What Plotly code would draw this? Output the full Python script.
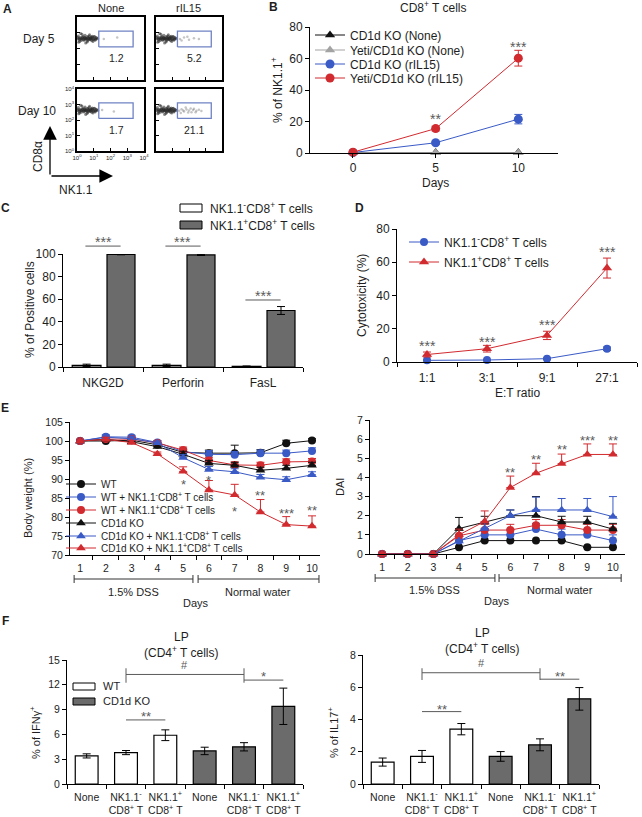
import plotly.graph_objects as go

W, H = 642, 817
FONT = "Liberation Sans, Arial, Helvetica, sans-serif"
TXT = "#1e1e1e"
RED = "#d12a2f"
BLUE = "#3a5ac6"
BLACK = "#111111"
LIGHT = "#a3a3a3"
BARGRAY = "#6b6b6b"
SIG = "#5a5a5a"

# ======================= DATA =======================
# Panel A - flow cytometry (log10 units)
flow_cond = ["None", "rIL15"]
flow_day = ["Day 5", "Day 10"]
flow_pct = ["1.2", "5.2", "1.7", "21.1"]          # None-D5, rIL15-D5, None-D10, rIL15-D10
flow_ticks = ["10<sup>0</sup>", "10<sup>1</sup>", "10<sup>2</sup>", "10<sup>3</sup>", "10<sup>4</sup>"]
cloud_x = [0.05, 0.12, 0.2, 0.28, 0.35, 0.42, 0.5, 0.58, 0.65, 0.72, 0.8, 0.88, 0.95, 1.02, 1.1, 1.18,
           0.08, 0.16, 0.24, 0.32, 0.4, 0.48, 0.56, 0.64, 0.72, 0.8, 0.9, 1.0, 1.08,
           0.1, 0.3, 0.45, 0.6, 0.75, 0.85, 1.05, 0.22, 0.52, 0.7, 0.95,
           0.04, 0.14, 0.26, 0.38, 0.46, 0.54, 0.62, 0.7, 0.78, 0.86, 0.98, 1.14, 1.24,
           0.18, 0.34, 0.5, 0.66, 0.82, 0.92, 1.12]
cloud_y = [2.62, 2.55, 2.7, 2.6, 2.78, 2.52, 2.66, 2.58, 2.72, 2.6, 2.68, 2.5, 2.64, 2.74, 2.58, 2.66,
           2.8, 2.45, 2.62, 2.7, 2.56, 2.84, 2.64, 2.48, 2.8, 2.55, 2.7, 2.6, 2.52,
           2.4, 2.9, 2.68, 2.42, 2.88, 2.62, 2.76, 2.95, 2.35, 2.66, 2.45,
           2.7, 2.66, 2.5, 2.62, 2.72, 2.6, 2.76, 2.64, 2.58, 2.74, 2.56, 2.7, 2.62,
           2.58, 2.68, 2.62, 2.55, 2.66, 2.78, 2.6]
gate_none5_x = [1.6, 2.4]
gate_none5_y = [2.6, 2.7]
gate_il15_5_x = [1.45, 1.7, 2.0, 2.3, 2.6, 1.55, 1.9]
gate_il15_5_y = [2.6, 2.7, 2.55, 2.65, 2.6, 2.5, 2.75]
gate_none10_x = [1.5, 2.2]
gate_none10_y = [2.65, 2.55]
gate_il15_10_x = [1.4, 1.55, 1.7, 1.85, 2.0, 2.15, 2.3, 2.45, 2.6, 2.75, 1.5, 1.8, 2.1, 2.4, 1.65, 1.95, 2.25]
gate_il15_10_y = [2.6, 2.7, 2.55, 2.68, 2.62, 2.5, 2.72, 2.6, 2.66, 2.58, 2.45, 2.8, 2.75, 2.5, 2.62, 2.48, 2.64]
gate_x = [1.3, 3.35, 3.35, 1.3, 1.3]
gate_y = [2.1, 2.1, 3.1, 3.1, 2.1]

# Panel B
b_days = [0, 5, 10]
b_ko_none = [0.3, 0.3, 0.3]
b_yeti_none = [0.2, 0.2, 0.2]
b_ko_il15 = [0.3, 6.5, 21.5]
b_ko_il15_err = [0.2, 1.0, 3.0]
b_yeti_il15 = [0.5, 15.5, 60.2]
b_yeti_il15_err = [0.4, 1.5, 5.0]

# Panel C
c_markers = ["NKG2D", "Perforin", "FasL"]
c_neg = [1.5, 1.5, 0.6]
c_neg_err = [1.0, 1.0, 0.3]
c_pos = [99.6, 99.2, 50.0]
c_pos_err = [0.3, 0.5, 3.5]

# Panel D
d_ratios = ["1:1", "3:1", "9:1", "27:1"]
d_neg = [1.0, 1.2, 2.0, 8.0]
d_neg_err = [0.3, 0.3, 0.5, 1.0]
d_pos = [4.5, 8.0, 16.0, 56.5]
d_pos_err = [1.5, 2.0, 2.5, 6.0]

# Panel E
e_days = [1, 2, 3, 4, 5, 6, 7, 8, 9, 10]
e_names = ["WT", "WT + NK1.1<sup>-</sup>CD8<sup>+</sup> T cells", "WT + NK1.1<sup>+</sup>CD8<sup>+</sup> T cells",
           "CD1d KO", "CD1d KO + NK1.1<sup>-</sup>CD8<sup>+</sup> T cells", "CD1d KO + NK1.1<sup>+</sup>CD8<sup>+</sup> T cells"]
w_wt = [100, 100, 100.2, 99.0, 97.0, 96.8, 96.8, 96.9, 99.4, 100.1]
w_wt_err = [0.3, 0.3, 0.5, 0.5, 0.8, 0.8, 2.1, 0.8, 0.8, 0.5]
w_wt_neg = [100, 101.1, 101.0, 99.6, 97.2, 96.5, 96.4, 96.8, 96.8, 97.4]
w_wt_neg_err = [0.3, 0.5, 0.5, 0.5, 0.8, 1.0, 0.8, 0.8, 0.8, 0.8]
w_wt_pos = [100, 100.5, 100.5, 99.5, 97.6, 94.9, 93.7, 93.6, 94.5, 94.6]
w_wt_pos_err = [0.3, 0.5, 0.5, 0.5, 0.8, 0.8, 0.8, 0.8, 0.8, 0.8]
w_ko = [100, 100.4, 99.8, 98.5, 96.5, 94.1, 93.6, 92.3, 92.8, 93.6]
w_ko_err = [0.3, 0.5, 0.5, 0.5, 0.8, 0.8, 0.8, 0.8, 0.8, 0.8]
w_ko_neg = [100, 101.0, 100.6, 99.5, 95.6, 92.5, 91.9, 90.4, 89.8, 91.1]
w_ko_neg_err = [0.3, 0.5, 0.5, 0.5, 0.8, 0.8, 0.8, 0.8, 0.8, 0.8]
w_ko_pos = [100, 100.4, 99.6, 96.6, 92.0, 87.1, 85.8, 81.3, 78.0, 77.6]
w_ko_pos_err = [0.3, 0.5, 0.5, 0.5, 1.2, 2.5, 2.8, 3.3, 2.1, 2.7]

dai_wt = [0, 0, 0, 0.35, 0.7, 0.7, 0.7, 0.7, 0.35, 0.35]
dai_wt_err = [0, 0, 0, 0, 0, 0, 0, 0, 0, 0]
dai_wt_neg = [0, 0, 0, 0.7, 1.0, 1.0, 1.3, 1.0, 1.0, 0.7]
dai_wt_neg_err = [0, 0, 0, 0.3, 0.3, 0.3, 0.3, 0.3, 0.3, 0.3]
dai_wt_pos = [0, 0, 0, 0.95, 1.25, 1.25, 1.5, 1.5, 1.25, 1.25]
dai_wt_pos_err = [0, 0, 0, 0.3, 0.3, 0.3, 0.3, 0.3, 0.3, 0.3]
dai_ko = [0, 0, 0, 1.33, 1.67, 2.0, 2.0, 1.67, 1.67, 1.3]
dai_ko_err = [0, 0, 0, 0.58, 0.3, 0.3, 1.0, 0.3, 0.3, 0.3]
dai_ko_neg = [0, 0, 0, 0.67, 1.33, 2.0, 2.3, 2.3, 2.3, 1.95]
dai_ko_neg_err = [0, 0, 0, 0.3, 0.3, 0.3, 0.67, 0.6, 0.6, 1.05]
dai_ko_pos = [0, 0, 0, 1.0, 1.7, 3.47, 4.22, 4.72, 5.2, 5.2]
dai_ko_pos_err = [0, 0, 0, 0.3, 0.55, 0.6, 0.52, 0.5, 0.55, 0.55]

# Panel F
f_groups = ["None", "NK1.1<sup>-</sup><br>CD8<sup>+</sup> T", "NK1.1<sup>+</sup><br>CD8<sup>+</sup> T"]
f_ifng_wt = [3.4, 3.8, 5.9]
f_ifng_wt_err = [0.25, 0.25, 0.65]
f_ifng_ko = [4.0, 4.5, 9.4]
f_ifng_ko_err = [0.45, 0.5, 2.2]
f_il17_wt = [1.36, 1.71, 3.4]
f_il17_wt_err = [0.25, 0.37, 0.35]
f_il17_ko = [1.71, 2.43, 5.28]
f_il17_ko_err = [0.3, 0.37, 0.7]

# ======================= HELPERS =======================
fig = go.Figure()
AX = {}
layout_axes = {}
annotations = []
shapes = []
legends = {}


def ref(n, letter):
    return letter if n == 1 else f"{letter}{n}"


def add_axes(n, xpx, ypx, xr, yr, xkw=None, ykw=None, size=12):
    AX[n] = dict(x=xpx, y=ypx, xr=xr, yr=yr)
    base = dict(showline=True, linecolor="black", linewidth=1, showgrid=False, zeroline=False,
                ticks="outside", ticklen=4, tickwidth=1, tickcolor="black", fixedrange=True,
                automargin=False, tickfont=dict(family=FONT, size=size, color=TXT))
    xa = dict(base, domain=[xpx[0] / W, xpx[1] / W], range=list(xr), anchor=ref(n, "y"))
    ya = dict(base, domain=[1 - ypx[1] / H, 1 - ypx[0] / H], range=list(yr), anchor=ref(n, "x"))
    if xkw:
        xa.update(xkw)
    if ykw:
        ya.update(ykw)
    layout_axes["xaxis" if n == 1 else f"xaxis{n}"] = xa
    layout_axes["yaxis" if n == 1 else f"yaxis{n}"] = ya


def dx(n, v):
    (x0, x1), (r0, r1) = AX[n]["x"], AX[n]["xr"]
    return x0 + (v - r0) / (r1 - r0) * (x1 - x0)


def dy(n, v):
    (t, b), (r0, r1) = AX[n]["y"], AX[n]["yr"]
    return b - (v - r0) / (r1 - r0) * (b - t)


def ptext(x, y, s, size=12, anchor="center", angle=0, bold=False, color=TXT):
    annotations.append(dict(x=x / W, y=1 - y / H, xref="paper", yref="paper",
                            text=(f"<b>{s}</b>" if bold else s), showarrow=False,
                            xanchor=anchor, yanchor="middle", textangle=angle,
                            font=dict(family=FONT, size=size, color=color)))


def star(n, xv, yv, s, size=14):
    ptext(dx(n, xv), dy(n, yv) + 0.28 * size, s, size=size, color=SIG)


def pline(x0, y0, x1, y1, color=SIG, width=1):
    shapes.append(dict(type="line", xref="paper", yref="paper", x0=x0 / W, y0=1 - y0 / H,
                       x1=x1 / W, y1=1 - y1 / H, line=dict(color=color, width=width)))


def dline(n, x0, x1, y0, y1=None):
    pline(dx(n, x0), dy(n, y0), dx(n, x1), dy(n, y0 if y1 is None else y1))


def bracket(n, x0, x1, ypx):
    a, b = dx(n, x0), dx(n, x1)
    pline(a, ypx, b, ypx, color="#333", width=1)
    pline(a, ypx - 4, a, ypx + 4, color="#333", width=1)
    pline(b, ypx - 4, b, ypx + 4, color="#333", width=1)


def prect(x0, y0, x1, y1, fill):
    shapes.append(dict(type="rect", xref="paper", yref="paper", x0=x0 / W, y0=1 - y1 / H,
                       x1=x1 / W, y1=1 - y0 / H, fillcolor=fill, line=dict(color="black", width=1)))


def new_legend(left, cy, size):
    k = len(legends) + 1
    key = "legend" if k == 1 else f"legend{k}"
    legends[key] = dict(x=left / W, y=1 - cy / H, xanchor="left", yanchor="middle",
                        bgcolor="rgba(0,0,0,0)", borderwidth=0, itemclick=False, itemdoubleclick=False,
                        font=dict(family=FONT, size=size, color=TXT))
    return key


def err(arr, up_only=False, color="black"):
    d = dict(type="data", array=arr, color=color, thickness=1, width=4, visible=True)
    if up_only:
        d.update(symmetric=False, arrayminus=[0] * len(arr))
    return d


def bounds(n):
    return [i - 0.5 for i in range(n + 1)]


# ======================= PANEL A =======================
flow_geo = [((77, 144), (17, 80)), ((156, 222), (17, 80)), ((77, 144), (89, 151)), ((156, 222), (89, 151))]
gate_dots = [(gate_none5_x, gate_none5_y), (gate_il15_5_x, gate_il15_5_y),
             (gate_none10_x, gate_none10_y), (gate_il15_10_x, gate_il15_10_y)]
for i, (gx, gy) in enumerate(flow_geo):
    n = i + 1
    show = (n == 3)
    fk = dict(linewidth=1.6, mirror=True, ticks="inside", ticklen=3, tickmode="array",
              tickvals=[0, 1, 2, 3, 4], ticktext=flow_ticks, showticklabels=show,
              tickfont=dict(family=FONT, size=6, color=TXT))
    add_axes(n, gx, gy, (0, 4), (0, 4), xkw=fk, ykw=fk)
    fig.add_trace(go.Scatter(x=cloud_x, y=cloud_y, mode="markers", xaxis=ref(n, "x"), yaxis=ref(n, "y"),
                             marker=dict(size=3, color="rgba(40,40,40,0.55)"), showlegend=False,
                             hoverinfo="skip"))
    fig.add_trace(go.Scatter(x=gate_dots[i][0], y=gate_dots[i][1], mode="markers", xaxis=ref(n, "x"),
                             yaxis=ref(n, "y"), marker=dict(size=2.5, color="rgba(90,90,90,0.35)"),
                             showlegend=False, hoverinfo="skip"))
    fig.add_trace(go.Scatter(x=gate_x, y=gate_y, mode="lines", xaxis=ref(n, "x"), yaxis=ref(n, "y"),
                             line=dict(color="#6f82c4", width=1.3), showlegend=False, hoverinfo="skip"))
    ptext(dx(n, 2.33), dy(n, 1.38), flow_pct[i], size=10.5)

ptext(dx(1, 2), 8, flow_cond[0], size=11)
ptext(dx(2, 2), 8, flow_cond[1], size=11)
ptext(39, dy(1, 2.6), flow_day[0], size=12)
ptext(37, dy(3, 2.6), flow_day[1], size=12)
annotations.append(dict(x=50 / W, y=1 - 126 / H, xref="paper", yref="paper", ax=0, ay=50, text="",
                        showarrow=True, arrowhead=2, arrowsize=2.1, arrowwidth=1.3, arrowcolor="black"))
annotations.append(dict(x=113 / W, y=1 - 176 / H, xref="paper", yref="paper", ax=-63, ay=0, text="",
                        showarrow=True, arrowhead=2, arrowsize=2.1, arrowwidth=1.3, arrowcolor="black"))
ptext(38, 157, "CD8α", size=12, angle=-90)
ptext(76, 190, "NK1.1", size=12)

# ======================= PANEL B =======================
add_axes(5, (310, 558), (27, 153), (-2.6, 12.4), (0, 80),
         xkw=dict(tickmode="array", tickvals=b_days), ykw=dict(dtick=20))
b_series = [
    ("CD1d KO (None)", b_ko_none, None, BLACK, "triangle-up"),
    ("Yeti/CD1d KO (None)", b_yeti_none, None, LIGHT, "triangle-up"),
    ("CD1d KO (rIL15)", b_ko_il15, b_ko_il15_err, BLUE, "circle"),
    ("Yeti/CD1d KO (rIL15)", b_yeti_il15, b_yeti_il15_err, RED, "circle"),
]
b_leg_y = [35, 50, 64, 78]
for (name, vals, e, col, sym), ly in zip(b_series, b_leg_y):
    key = new_legend(310, ly, 12)
    fig.add_trace(go.Scatter(x=b_days, y=vals, name=name, mode="lines+markers", xaxis="x5", yaxis="y5",
                             line=dict(color=col, width=1), marker=dict(color=col, size=9, symbol=sym),
                             error_y=(err(e, color=col) if e else None), cliponaxis=False, legend=key))
star(5, 5, 24, "**")
star(5, 10, 70, "***")
ptext(273, 7, "B", size=12, bold=True)
ptext(433, 7, "CD8<sup>+</sup> T cells", size=12)
ptext(435, 183, "Days", size=12)
ptext(277, 90, "% of NK1.1<sup>+</sup>", size=12, angle=-90)

# ======================= PANEL C =======================
cx = list(range(len(c_markers)))
add_axes(6, (63, 303), (254, 367), (-0.5, 2.5), (0, 100),
         xkw=dict(tickmode="array", tickvals=cx, ticktext=c_markers, tickcolor="rgba(0,0,0,0)", ticklen=5,
                  minor=dict(tickmode="array", tickvals=bounds(3), ticks="outside", ticklen=4,
                             tickcolor="black")),
         ykw=dict(dtick=20))
fig.add_trace(go.Bar(x=cx, y=c_neg, width=0.36, offset=-0.385, xaxis="x6", yaxis="y6",
                     marker=dict(color="white", line=dict(color="black", width=1.2)),
                     error_y=err(c_neg_err), showlegend=False, name="NK1.1-CD8+ T cells"))
fig.add_trace(go.Bar(x=cx, y=c_pos, width=0.35, offset=0.05, xaxis="x6", yaxis="y6",
                     marker=dict(color=BARGRAY, line=dict(color="black", width=1.2)),
                     error_y=err(c_pos_err), showlegend=False, name="NK1.1+CD8+ T cells"))
for g, yl, ys in [(0, 107, 114), (1, 107, 114), (2, 59.3, 66.5)]:
    dline(6, g - 0.22, g + 0.22, yl)
    star(6, g, ys, "***")
prect(180, 204, 202, 212, "white")
prect(180, 221, 202, 229, BARGRAY)
ptext(208, 208, "NK1.1<sup>-</sup>CD8<sup>+</sup> T cells", size=12, anchor="left")
ptext(208, 225, "NK1.1<sup>+</sup>CD8<sup>+</sup> T cells", size=12, anchor="left")
ptext(6, 208, "C", size=12, bold=True)
ptext(30, 310, "% of Positive cells", size=12, angle=-90)

# ======================= PANEL D =======================
dxs = list(range(len(d_ratios)))
add_axes(7, (397, 637), (229, 362), (-0.5, 3.5), (0, 80),
         xkw=dict(tickmode="array", tickvals=dxs, ticktext=d_ratios, tickcolor="rgba(0,0,0,0)", ticklen=5,
                  minor=dict(tickmode="array", tickvals=bounds(4), ticks="outside", ticklen=4,
                             tickcolor="black")),
         ykw=dict(dtick=20))
k1 = new_legend(404, 242, 12)
fig.add_trace(go.Scatter(x=dxs, y=d_neg, name="NK1.1<sup>-</sup>CD8<sup>+</sup> T cells", mode="lines+markers",
                         xaxis="x7", yaxis="y7", line=dict(color=BLUE, width=1),
                         marker=dict(color=BLUE, size=8, symbol="circle"), error_y=err(d_neg_err, color=BLUE),
                         cliponaxis=False, legend=k1))
k2 = new_legend(404, 262, 12)
fig.add_trace(go.Scatter(x=dxs, y=d_pos, name="NK1.1<sup>+</sup>CD8<sup>+</sup> T cells", mode="lines+markers",
                         xaxis="x7", yaxis="y7", line=dict(color=RED, width=1),
                         marker=dict(color=RED, size=9, symbol="triangle-up"), error_y=err(d_pos_err, color=RED),
                         cliponaxis=False, legend=k2))
for xi, ys in zip(dxs, [12, 14.4, 24.7, 68.6]):
    star(7, xi, ys, "***")
ptext(359, 208, "D", size=12, bold=True)
ptext(362, 295, "Cytotoxicity (%)", size=12, angle=-90)
ptext(517, 393, "E:T ratio", size=12)

# ======================= PANEL E =======================
ex_kw = dict(tickmode="array", tickvals=e_days, tickcolor="rgba(0,0,0,0)", ticklen=3,
             minor=dict(tickmode="array", tickvals=[d + 0.5 for d in e_days], ticks="outside",
                        ticklen=4, tickcolor="black"))
add_axes(8, (70, 320), (422, 555), (0.61, 10.31), (70, 105), xkw=ex_kw, ykw=dict(dtick=5), size=10.5)
add_axes(9, (370, 625), (420, 554), (0.53, 10.47), (0, 7), xkw=ex_kw, ykw=dict(dtick=1), size=10.5)

e_style = [(BLACK, "circle"), (BLUE, "circle"), (RED, "circle"),
           (BLACK, "triangle-up"), (BLUE, "triangle-up"), (RED, "triangle-up")]
w_series = [(w_wt, w_wt_err), (w_wt_neg, w_wt_neg_err), (w_wt_pos, w_wt_pos_err),
            (w_ko, w_ko_err), (w_ko_neg, w_ko_neg_err), (w_ko_pos, w_ko_pos_err)]
dai_series = [(dai_wt, dai_wt_err), (dai_wt_neg, dai_wt_neg_err), (dai_wt_pos, dai_wt_pos_err),
              (dai_ko, dai_ko_err), (dai_ko_neg, dai_ko_neg_err), (dai_ko_pos, dai_ko_pos_err)]
e_leg_y = [484, 497, 510, 523, 536, 548]
for name, (col, sym), (wv, we), (dv, de), ly in zip(e_names, e_style, w_series, dai_series, e_leg_y):
    key = new_legend(61, ly, 10)
    msize = 8 if sym == "circle" else 8.5
    fig.add_trace(go.Scatter(x=e_days, y=wv, name=name, mode="lines+markers", xaxis="x8", yaxis="y8",
                             line=dict(color=col, width=1), marker=dict(color=col, size=msize, symbol=sym),
                             error_y=err(we, up_only=True, color=col), cliponaxis=False, legend=key))
    fig.add_trace(go.Scatter(x=e_days, y=dv, name=name, mode="lines+markers", xaxis="x9", yaxis="y9",
                             line=dict(color=col, width=1), marker=dict(color=col, size=msize, symbol=sym),
                             error_y=err(de, up_only=True, color=col), cliponaxis=False, showlegend=False))

for d, ys, s in [(5, 89.6, "*"), (6, 90.6, "*"), (7, 82.5, "*"), (8, 86.7, "**"), (9, 81.8, "***"), (10, 82.7, "**")]:
    star(8, d, ys, s, size=13)
for d, ys, s in [(6, 4.44, "**"), (7, 5.14, "**"), (8, 5.66, "**"), (9, 6.13, "***"), (10, 6.13, "**")]:
    star(9, d, ys, s, size=13)

bracket(8, 0.77, 5.38, 579)
bracket(8, 5.58, 10.27, 579)
ptext(dx(8, 3.06), 592, "1.5% DSS", size=11)
ptext(dx(8, 7.9), 592, "Normal water", size=11)
ptext(dx(8, 5.5), 603, "Days", size=11)
bracket(9, 0.73, 5.4, 578)
bracket(9, 5.56, 10.32, 578)
ptext(dx(9, 3.06), 590, "1.5% DSS", size=11)
ptext(dx(9, 7.93), 590, "Normal water", size=11)
ptext(dx(9, 5.48), 601, "Days", size=11)
ptext(5, 408, "E", size=12, bold=True)
ptext(28, 498, "Body weight (%)", size=11, angle=-90)
ptext(340, 487, "DAI", size=11, angle=-90)

# ======================= PANEL F =======================
fx_wt = list(range(len(f_groups)))
fx_ko = [len(f_groups) + i for i in range(len(f_groups))]
f_ticktext = f_groups + f_groups
fx_kw = dict(tickmode="array", tickvals=fx_wt + fx_ko, ticktext=f_ticktext, tickcolor="rgba(0,0,0,0)",
             ticklen=3, minor=dict(tickmode="array", tickvals=bounds(6), ticks="outside", ticklen=4,
                                   tickcolor="black"))
add_axes(10, (67, 303), (660, 784), (-0.5, 5.5), (0, 15), xkw=fx_kw, ykw=dict(dtick=3), size=10.5)
add_axes(11, (363, 599), (655, 784), (-0.5, 5.5), (0, 8), xkw=fx_kw, ykw=dict(dtick=2), size=10.5)

for n, wt, wte, ko, koe in [(10, f_ifng_wt, f_ifng_wt_err, f_ifng_ko, f_ifng_ko_err),
                            (11, f_il17_wt, f_il17_wt_err, f_il17_ko, f_il17_ko_err)]:
    fig.add_trace(go.Bar(x=fx_wt, y=wt, width=0.58, offset=-0.29, xaxis=f"x{n}", yaxis=f"y{n}",
                         marker=dict(color="white", line=dict(color="black", width=1.2)),
                         error_y=err(wte), showlegend=False, name="WT"))
    fig.add_trace(go.Bar(x=fx_ko, y=ko, width=0.58, offset=-0.29, xaxis=f"x{n}", yaxis=f"y{n}",
                         marker=dict(color=BARGRAY, line=dict(color="black", width=1.2)),
                         error_y=err(koe), showlegend=False, name="CD1d KO"))

# significance F-left
dline(10, 1, 4, 13.25)
dline(10, 1, 1, 12.25, 14.0)
dline(10, 4, 4, 12.25, 14.0)
dline(10, 4, 5, 12.57)
dline(10, 1, 2, 7.75)
ptext(dx(10, 2.5), dy(10, 14.4), "#", size=11, color=SIG)
star(10, 4.5, 13.4, "*", size=13)
star(10, 1.5, 8.6, "**", size=13)
# significance F-right
dline(11, 1, 4, 6.9)
dline(11, 1, 1, 6.45, 7.18)
dline(11, 4, 4, 6.45, 7.18)
dline(11, 4, 5, 6.5)
dline(11, 1, 2, 4.49)
ptext(dx(11, 2.5), dy(11, 7.5), "#", size=11, color=SIG)
star(11, 4.5, 6.9, "**", size=13)
star(11, 1.5, 4.85, "**", size=13)

prect(73, 683, 95, 690, "white")
prect(73, 698, 95, 705, BARGRAY)
ptext(101, 686, "WT", size=11, anchor="left")
ptext(101, 701, "CD1d KO", size=11, anchor="left")
ptext(5, 621, "F", size=12, bold=True)
ptext(182, 637, "LP", size=12)
ptext(182, 652, "(CD4<sup>+</sup> T cells)", size=12)
ptext(482, 633, "LP", size=12)
ptext(482, 648, "(CD4<sup>+</sup> T cells)", size=12)
ptext(35, 733, "% of IFNγ<sup>+</sup>", size=11, angle=-90)
ptext(333, 733, "% of IL17<sup>+</sup>", size=11, angle=-90)

ptext(7, 9, "A", size=12, bold=True)

# ======================= LAYOUT =======================
fig.update_layout(width=W, height=H, autosize=False,
                  margin=dict(l=0, r=0, t=0, b=0, pad=0, autoexpand=False),
                  paper_bgcolor="white", plot_bgcolor="white", font=dict(family=FONT, color=TXT),
                  annotations=annotations, shapes=shapes, barmode="overlay", hovermode=False,
                  **layout_axes, **legends)
fig.write_html("out.html", config=dict(displayModeBar=False),
               post_script="document.body.style.margin='0';document.body.style.overflow='hidden';")
